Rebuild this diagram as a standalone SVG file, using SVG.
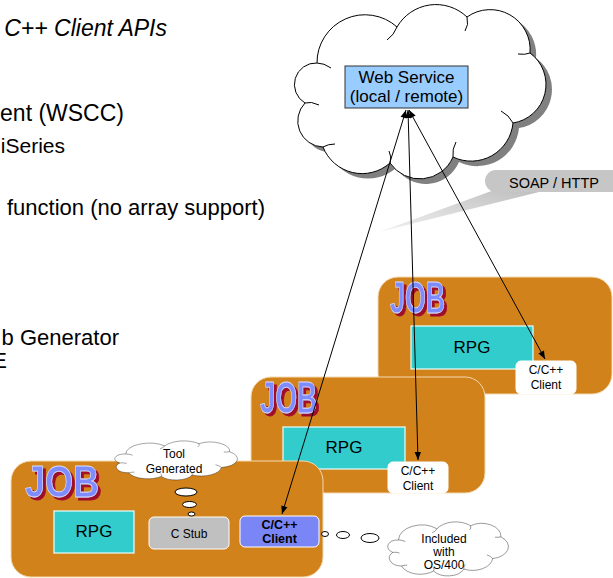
<svg xmlns="http://www.w3.org/2000/svg" xmlns:xlink="http://www.w3.org/1999/xlink" width="613" height="578" viewBox="0 0 613 578">
<style>
.t{font-family:"Liberation Sans",Arial,sans-serif;fill:#000}
.side{font-size:22px}
.job{fill:#D2821A;stroke:#F3D9B0;stroke-width:1}
.rpg{fill:#33CCCC;stroke:#E6FFFF;stroke-width:1.2}
.client{fill:#FFFFFF;stroke:#FFFFFF}
.jobtxt{font-family:"Liberation Sans",Arial,sans-serif;font-weight:bold;font-style:normal;font-size:45px;fill:#7F8CFF;stroke:#D6DCFF;stroke-width:0.8;filter:url(#redshadow)}
.cloud{fill:#FFFFFF;stroke:#000;stroke-width:1;vector-effect:non-scaling-stroke}
.hook{fill:none;stroke:#000;stroke-width:1;vector-effect:non-scaling-stroke}
.bub{fill:#FFFFFF;stroke:#000;stroke-width:1}
.conn line{stroke:#000;stroke-width:1;marker-start:url(#ah);marker-end:url(#ah)}
</style>
<defs>
<marker id="ah" viewBox="0 0 10 10" refX="10" refY="5" markerWidth="9" markerHeight="8" markerUnits="userSpaceOnUse" orient="auto-start-reverse"><path d="M0,1 L10,5 L0,9 z" fill="#000"/></marker>
<filter id="redshadow" x="-20%" y="-20%" width="140%" height="140%">
<feOffset in="SourceAlpha" dx="2.5" dy="2.5" result="o"/>
<feFlood flood-color="#A0102A"/>
<feComposite in2="o" operator="in" result="s"/>
<feMerge><feMergeNode in="s"/><feMergeNode in="SourceGraphic"/></feMerge>
</filter>
<path id="cloudPath" d="M317,63 A48,48 0 0 1 397,27 A45,45 0 0 1 467,17 A40,40 0 0 1 530,53 A39,39 0 0 1 513,123 A42,42 0 0 1 453,157 A36,36 0 0 1 390,163 A42,42 0 0 1 323,147 A26,26 0 0 1 305,103 A21.5,21.5 0 0 1 317,63 Z"/>
<path id="cloudHooks" d="M397,27 q-3,8 -10,13 M467,17 q2,8 -2,14 M530,53 q-5,2 -12,1 M513,123 q-4,-8 -12,-12 M453,157 q-1,-8 3,-15 M390,163 q2,-6 -1,-12 M323,147 q5,-3 12,-3 M305,103 q6,-2 14,2 M317,63 q7,0 14,5"/>
<linearGradient id="tail" x1="1" y1="0" x2="0" y2="1">
<stop offset="0" stop-color="#BDBDBD"/><stop offset="1" stop-color="#F2F2F2"/>
</linearGradient>
</defs>

<g id="side-text">
<text class="t" x="167" y="36" font-size="23" font-style="italic" text-anchor="end">C++ Client APIs</text>
<text class="t" x="124" y="121" font-size="23" text-anchor="end">ent (WSCC)</text>
<text class="t" x="65" y="153" font-size="21" text-anchor="end">iSeries</text>
<text class="t side" x="265" y="215" text-anchor="end">function (no array support)</text>
<text class="t side" x="119" y="345" text-anchor="end">b Generator</text>
<text class="t side" x="7" y="368" text-anchor="end">E</text>
</g>

<g id="web-service">
<use xlink:href="#cloudPath" transform="translate(6,5)" fill="#808080"/>
<use xlink:href="#cloudPath" class="cloud"/>
<use xlink:href="#cloudHooks" class="hook"/>
<rect x="345" y="66" width="123" height="42" fill="#99CCFF" stroke="#333" stroke-width="1"/>
<text class="t" x="406.5" y="83" font-size="17" text-anchor="middle">Web Service</text>
<text class="t" x="406.5" y="102" font-size="17" text-anchor="middle">(local / remote)</text>
</g>

<g id="soap-callout">
<polygon points="497,189 543,191 379,232" fill="url(#tail)"/>
<rect x="485" y="170" width="140" height="22" rx="11" fill="#C6C6C6"/>
<text class="t" x="554" y="188" font-size="14.5" text-anchor="middle">SOAP / HTTP</text>
</g>

<g id="job3">
<rect class="job" x="378" y="277" width="234" height="117" rx="20"/>
<text class="jobtxt" x="390" y="313" textLength="55" lengthAdjust="spacingAndGlyphs">JOB</text>
<rect class="rpg" x="411" y="326" width="122" height="43"/>
<text class="t" x="472" y="353" font-size="17" text-anchor="middle">RPG</text>
<rect class="client" x="516" y="361" width="60" height="33" rx="5"/>
<text class="t" x="546" y="374" font-size="12" text-anchor="middle">C/C++</text>
<text class="t" x="546" y="389" font-size="12" text-anchor="middle">Client</text>
</g>

<g id="job2">
<rect class="job" x="251" y="377" width="234" height="116" rx="20"/>
<text class="jobtxt" x="260" y="413" textLength="57" lengthAdjust="spacingAndGlyphs">JOB</text>
<rect class="rpg" x="283" y="427" width="122" height="42"/>
<text class="t" x="344" y="453" font-size="17" text-anchor="middle">RPG</text>
<rect class="client" x="388" y="462" width="60" height="31" rx="5"/>
<text class="t" x="418" y="475" font-size="12" text-anchor="middle">C/C++</text>
<text class="t" x="418" y="490" font-size="12" text-anchor="middle">Client</text>
</g>

<g id="job1">
<rect class="job" x="11" y="461" width="312" height="116" rx="20"/>
<text class="jobtxt" x="25" y="497" font-size="44" textLength="74" lengthAdjust="spacingAndGlyphs">JOB</text>
<rect class="rpg" x="54" y="511" width="80" height="42"/>
<text class="t" x="94" y="537" font-size="17" text-anchor="middle">RPG</text>
<rect x="149" y="517" width="80" height="32" rx="5" fill="#C0C0C0" stroke="#FFFFFF" stroke-width="1"/>
<text class="t" x="189" y="538" font-size="12" text-anchor="middle">C Stub</text>
<rect x="240" y="516" width="79" height="31" rx="5" fill="#7B86F6" stroke="#FFFFFF" stroke-width="1"/>
<text class="t" x="279.5" y="529" font-size="12.5" font-weight="bold" text-anchor="middle">C/C++</text>
<text class="t" x="279.5" y="543" font-size="12.5" font-weight="bold" text-anchor="middle">Client</text>
</g>

<g id="tool-generated">
<ellipse class="bub" cx="186" cy="492" rx="11" ry="4"/>
<ellipse class="bub" cx="189.5" cy="504.5" rx="7" ry="3"/>
<ellipse class="bub" cx="191.5" cy="514" rx="3.5" ry="2"/>
<g transform="translate(115,441) scale(0.488,0.224) translate(-295,-5)">
<use xlink:href="#cloudPath" class="cloud"/>
<use xlink:href="#cloudHooks" class="hook"/>
</g>
<text class="t" x="174" y="458" font-size="12" text-anchor="middle">Tool</text>
<text class="t" x="174" y="473" font-size="12" text-anchor="middle">Generated</text>
</g>

<g id="included-os400">
<ellipse class="bub" cx="325" cy="534" rx="3.5" ry="2.5"/>
<ellipse class="bub" cx="343" cy="535" rx="6.5" ry="3.5"/>
<ellipse class="bub" cx="370" cy="538" rx="9" ry="4.5"/>
<g transform="translate(388,522) scale(0.48,0.31) translate(-295,-5)">
<use xlink:href="#cloudPath" class="cloud"/>
<use xlink:href="#cloudHooks" class="hook"/>
</g>
<text class="t" x="444" y="543" font-size="12" text-anchor="middle">Included</text>
<text class="t" x="444" y="556" font-size="12" text-anchor="middle">with</text>
<text class="t" x="444" y="569" font-size="12" text-anchor="middle">OS/400</text>
</g>

<g id="connectors" class="conn">
<line x1="406" y1="110" x2="282" y2="514"/>
<line x1="408" y1="110" x2="418" y2="460"/>
<line x1="409" y1="110" x2="545" y2="359"/>
</g>
</svg>
